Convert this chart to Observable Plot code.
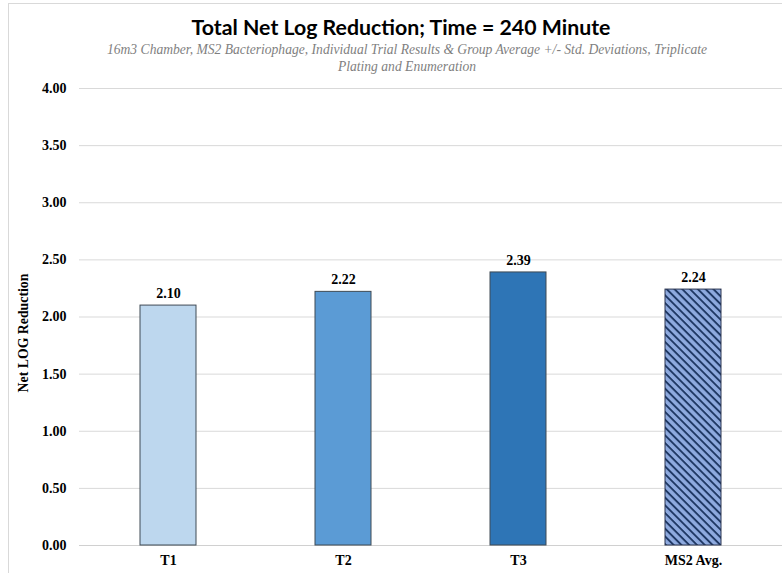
<!DOCTYPE html>
<html>
<head>
<meta charset="utf-8">
<script src="https://cdn.jsdelivr.net/npm/d3@7"></script>
<script src="https://cdn.jsdelivr.net/npm/@observablehq/plot@0.6"></script>
<style>
  html, body { margin: 0; padding: 0; background: #fff; }
  #wrap { position: relative; width: 782px; height: 573px; overflow: hidden; background: #fff; }
  #frame { position: absolute; left: 8px; top: 3px; width: 800px; height: 600px; border-left: 1px solid #d9d9d9; border-top: 1px solid #d9d9d9; }
  #title { position: absolute; left: 0; width: 802px; top: 14px; text-align: center; font-family: Lato, "Open Sans", sans-serif; font-weight: bold; font-size: 21.3px; line-height: 26px; color: #000; }
  #subtitle { position: absolute; left: 106px; width: 602px; top: 41px; text-align: center; font-family: "Liberation Serif", serif; font-style: italic; font-size: 13.6px; line-height: 17px; color: #7f7f7f; }
  #chart { position: absolute; left: 0; top: 80px; }
</style>
</head>
<body>
<div id="wrap">
  <div id="frame"></div>
  <div id="title">Total Net Log Reduction; Time = 240 Minute</div>
  <div id="subtitle">16m3 Chamber, MS2 Bacteriophage, Individual Trial Results &amp; Group Average +/- Std. Deviations, Triplicate Plating and Enumeration</div>
  <div id="chart"></div>
</div>
<script>
const categories = ["T1", "T2", "T3", "MS2 Avg."];
const values = [2.10, 2.22, 2.39, 2.24];
const colors = ["#bdd7ee", "#5b9bd5", "#2e75b6", "url(#hatch)"];
const yTicks = [0, 0.5, 1, 1.5, 2, 2.5, 3, 3.5, 4];
const yTitle = "Net LOG Reduction";

const data = categories.map((c, i) => ({cat: c, value: values[i], color: colors[i]}));

const chart = Plot.plot({
  width: 782,
  height: 493,
  marginTop: 8,
  marginBottom: 28,
  marginLeft: 79,
  marginRight: 0,
  style: "font-family: 'Liberation Serif', 'DejaVu Serif', serif; font-weight: bold; font-size: 14px; background: transparent; color: #000;",
  x: {domain: categories, paddingInner: 0.68, paddingOuter: 0.34, label: null},
  y: {domain: [0, 4], ticks: yTicks, label: null},
  marks: [
    Plot.gridY(yTicks.filter(t => t > 0), {stroke: "#d9d9d9", strokeOpacity: 1, strokeWidth: 1}),
    Plot.ruleY([0], {stroke: "#d0d0d0", strokeWidth: 1}),
    Plot.axisY({ticks: yTicks, tickSize: 0, tickPadding: 13, tickFormat: d3.format(".2f"), label: null, fontSize: 14}),
    Plot.axisX({tickSize: 0, tickPadding: 10, fontSize: 14, label: null}),
    Plot.text([yTitle], {frameAnchor: "left", textAnchor: "middle", rotate: -90, dx: -56, dy: 16, fontSize: 13.8, fontWeight: "bold", fill: "#000"}),
    Plot.barY(data.filter(d => !d.color.startsWith("url")), {x: "cat", y: "value", fill: "color", stroke: "#3f4a55", strokeWidth: 1}),
    Plot.barY(data.filter(d => d.color.startsWith("url")), {x: "cat", y: "value", fill: "url(#hatch)", stroke: "#2a3550", strokeWidth: 1}),
    Plot.text(data, {x: "cat", y: "value", text: d => d3.format(".2f")(d.value), dy: -12, fontSize: 14, fontWeight: "bold", fill: "#000"})
  ]
});

// hatch pattern definition
const ns = "http://www.w3.org/2000/svg";
const defs = document.createElementNS(ns, "defs");
defs.innerHTML = `<pattern id="hatch" patternUnits="userSpaceOnUse" width="5.5" height="5.5" patternTransform="rotate(45)">
  <rect width="5.5" height="5.5" fill="#8eaadf"></rect>
  <rect width="5.5" height="1.9" fill="#1f3864"></rect>
</pattern>`;
chart.insertBefore(defs, chart.firstChild);
document.getElementById("chart").appendChild(chart);
</script>
</body>
</html>
